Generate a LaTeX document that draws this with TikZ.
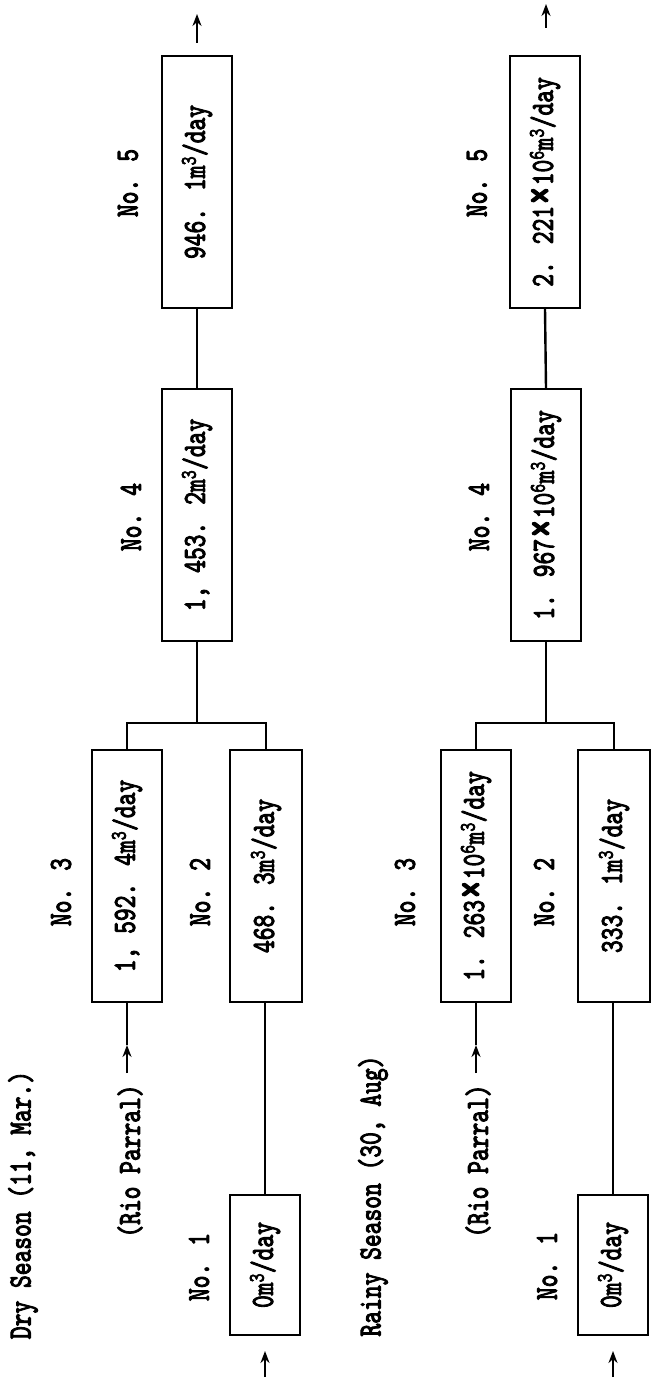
\documentclass[tikz,border=0pt]{standalone}
\usepackage{fontspec}
\usetikzlibrary{arrows.meta}
\newfontfamily\tw{lmmono10-regular}[Extension=.otf,FakeBold=3.5]
% upright-reading (rotated) condensed typewriter text
\newcommand\vt[1]{\rotatebox{90}{\scalebox{0.76}[1]{#1}}}
\newcommand\cub{m\textsuperscript{3}/day}
\newcommand\tms{\kern1pt\raisebox{-1.5pt}{\scalebox{1.5}{×}}\kern1pt}
\tikzset{
  lbl/.style={inner sep=0pt, font=\tw\fontsize{32}{32}\selectfont},
  flowbox/.style={draw, line width=2pt, minimum width=70pt, minimum height=252pt,
    inner sep=0pt, font=\tw\fontsize{32}{32}\selectfont},
  wire/.style={line width=2.4pt},
  arr/.style={wire, -{Stealth[length=12pt,width=9pt]}}
}
\begin{document}
\begin{tikzpicture}[x=1pt,y=-1pt]
\useasboundingbox (0,0) rectangle (651,1388);

% ---------------- dry season ----------------
\node[lbl] (dtitle) at (23,1205) {\vt{Dry Season (11, Mar.)}};
\node[lbl] (drp) at (130,1161) {\vt{(Rio Parral)}};

\node[flowbox, minimum height=140pt] (d1) at (265,1265) {\vt{0\cub}};
\node[flowbox, minimum width=72pt] (d2) at (266,876) {\vt{468. 3\cub}};
\node[flowbox] (d3) at (127,876) {\vt{1, 592. 4\cub}};
\node[flowbox] (d4) at (197,515) {\vt{1, 453. 2\cub}};
\node[flowbox] (d5) at (197,182) {\vt{946. 1\cub}};

\node[lbl] (dn1) at (199,1267) {\vt{No. 1}};
\node[lbl] (dn2) at (200,892) {\vt{No. 2}};
\node[lbl] (dn3) at (61,892) {\vt{No. 3}};
\node[lbl] (dn4) at (131,517) {\vt{No. 4}};
\node[lbl] (dn5) at (128,183) {\vt{No. 5}};

\coordinate (din) at (265,1377);
\coordinate (dinT) at (265,1351);
\coordinate (drpA) at (127,1073);
\coordinate (drpB) at (127,1045);
\coordinate (dj) at (197,723);
\coordinate (doutA) at (197,43);
\coordinate (doutB) at (197,14);

\draw[arr] (din) -- (dinT);
\draw[wire] (d1.north) -- (d1.north |- d2.south);
\draw[arr] (drpA) -- (drpB);
\draw[wire] (drpB) -- (d3.south);
\draw[wire] (d3.north) |- (dj) -| (d2.north);
\draw[wire] (dj) -- (d4.south);
\draw[wire] (d4.north) -- (d5.south);
\draw[arr] (doutA) -- (doutB);

% ---------------- rainy season ----------------
\node[lbl] (rtitle) at (373,1196) {\vt{Rainy Season (30, Aug)}};
\node[lbl] (rrp) at (478,1161) {\vt{(Rio Parral)}};

\node[flowbox, minimum height=140pt] (r1) at (613,1265) {\vt{0\cub}};
\node[flowbox, minimum width=72pt] (r2) at (614,876) {\vt{333. 1\cub}};
\node[flowbox] (r3) at (476,876) {\vt{1. 263\tms10\textsuperscript{6}\cub}};
\node[flowbox] (r4) at (546,515) {\vt{1. 967\tms10\textsuperscript{6}\cub}};
\node[flowbox] (r5) at (545,182) {\vt{2. 221\tms10\textsuperscript{6}\cub}};

\node[lbl] (rn1) at (547,1266) {\vt{No. 1}};
\node[lbl] (rn2) at (544,892) {\vt{No. 2}};
\node[lbl] (rn3) at (405,892) {\vt{No. 3}};
\node[lbl] (rn4) at (479,517) {\vt{No. 4}};
\node[lbl] (rn5) at (477,183) {\vt{No. 5}};

\coordinate (rin) at (613,1377);
\coordinate (rinT) at (613,1351);
\coordinate (rrpA) at (476,1073);
\coordinate (rrpB) at (476,1045);
\coordinate (rj) at (546,723);
\coordinate (routA) at (546,28);
\coordinate (routB) at (546,4);

\draw[arr] (rin) -- (rinT);
\draw[wire] (r1.north) -- (r1.north |- r2.south);
\draw[arr] (rrpA) -- (rrpB);
\draw[wire] (rrpB) -- (r3.south);
\draw[wire] (r3.north) |- (rj) -| (r2.north);
\draw[wire] (rj) -- (r4.south);
\draw[wire] (r4.north) -- (r5.south);
\draw[arr] (routA) -- (routB);
\end{tikzpicture}
\end{document}
